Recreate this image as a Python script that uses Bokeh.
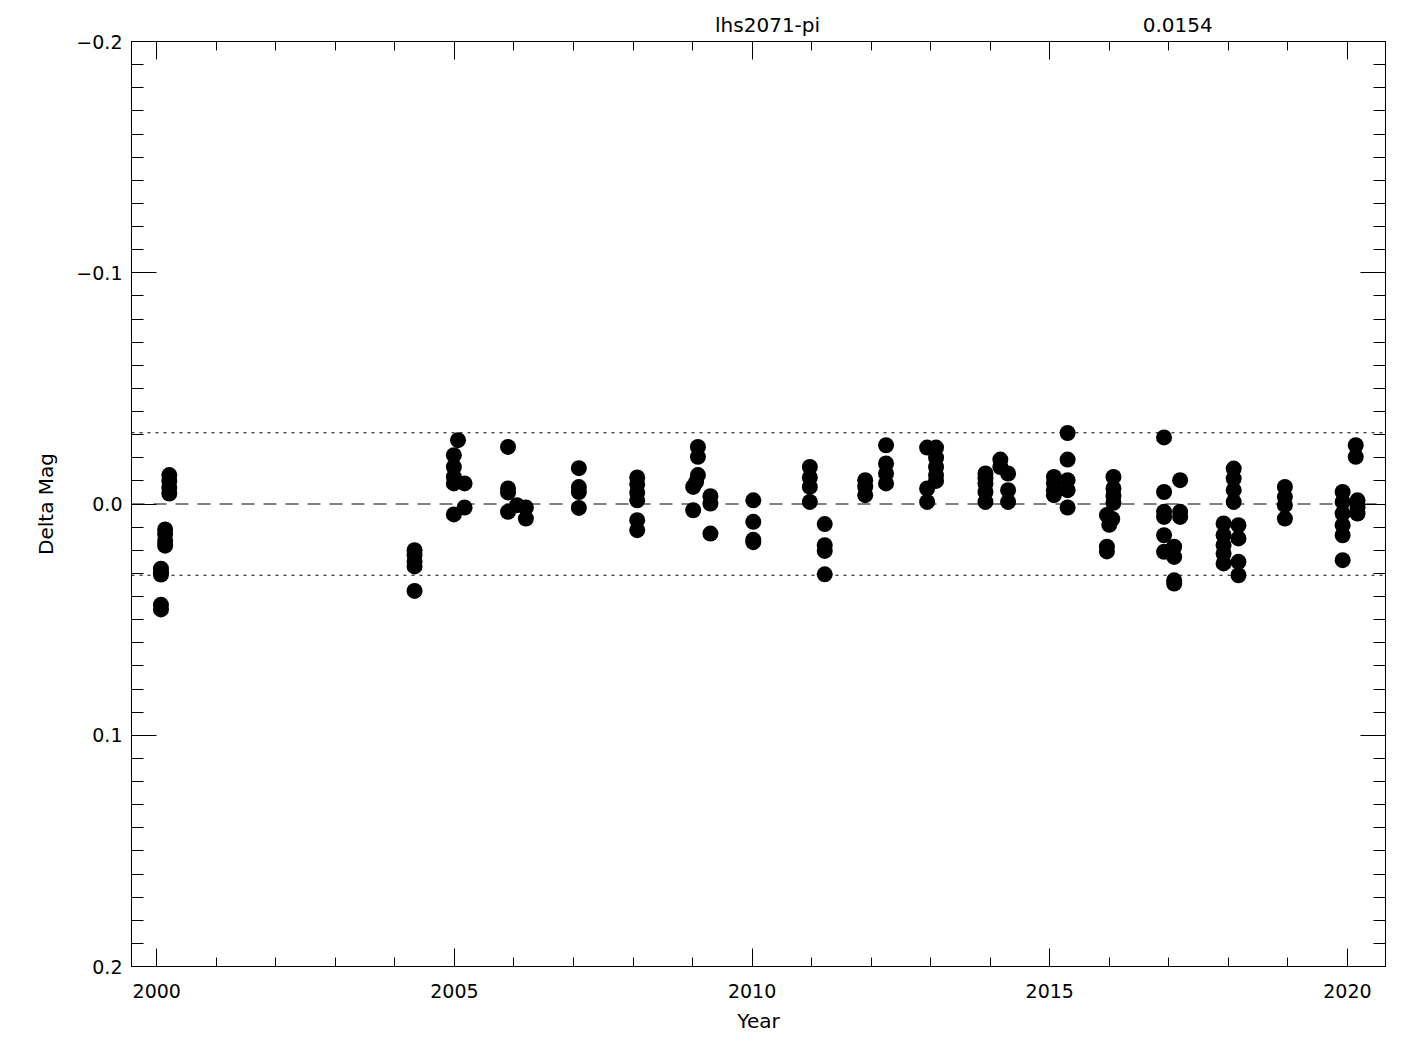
from bokeh.plotting import figure
from bokeh.models import (Range1d, LinearAxis, SingleIntervalTicker, FixedTicker,
                          CustomJSTickFormatter, Span, ColumnDataSource)
from bokeh.embed import file_html
from bokeh.resources import INLINE

# ---- data ----
title_text = ["lhs2071-pi", "0.0154"]
sigma = 0.0154

year = [
    2000.07, 2000.07, 2000.07, 2000.07, 2000.07,
    2000.14, 2000.14, 2000.14, 2000.14,
    2000.21, 2000.21, 2000.21, 2000.21,
    2004.33, 2004.33, 2004.33, 2004.33, 2004.33,
    2005.06, 2004.99, 2004.99, 2004.99, 2004.99, 2005.17, 2005.17, 2004.99,
    2005.90, 2005.90, 2005.90, 2005.90, 2006.05, 2006.20, 2006.20,
    2007.09, 2007.09, 2007.09, 2007.09,
    2008.07, 2008.07, 2008.07, 2008.07, 2008.07, 2008.07,
    2009.09, 2009.09, 2009.09, 2009.06, 2009.01, 2009.01, 2009.30, 2009.30, 2009.30,
    2010.02, 2010.02, 2010.02, 2010.02,
    2010.97, 2010.97, 2010.97, 2010.97, 2011.22, 2011.22, 2011.22, 2011.22,
    2011.90, 2011.90, 2011.90, 2012.25, 2012.25, 2012.25, 2012.25,
    2012.94, 2013.09, 2013.09, 2013.09, 2013.09, 2013.09, 2012.94, 2012.94,
    2013.92, 2013.92, 2013.92, 2013.92, 2013.92, 2014.17, 2014.17, 2014.30, 2014.30, 2014.30,
    2015.07, 2015.07, 2015.07, 2015.07, 2015.30, 2015.30, 2015.30, 2015.30, 2015.30,
    2016.07, 2016.07, 2016.07, 2016.07, 2015.96, 2016.05, 2016.00, 2015.96, 2015.96,
    2016.92, 2016.92, 2016.92, 2016.92, 2016.92, 2016.92, 2017.09, 2017.09, 2017.09, 2017.09,
    2017.19, 2017.19, 2017.19,
    2018.09, 2018.09, 2018.09, 2018.09, 2017.92, 2017.92, 2017.92, 2017.92, 2017.92,
    2018.17, 2018.17, 2018.17, 2018.17,
    2018.95, 2018.95, 2018.95, 2018.95,
    2019.92, 2019.92, 2019.92, 2019.92, 2019.92, 2019.92, 2020.14, 2020.14, 2020.17, 2020.17, 2020.17,
]
delta_mag = [
    0.0436, 0.0456, 0.0280, 0.0295, 0.0305,
    0.0110, 0.0130, 0.0160, 0.0180,
    -0.0125, -0.0100, -0.0070, -0.0045,
    0.0200, 0.0220, 0.0250, 0.0270, 0.0376,
    -0.0276, -0.0211, -0.0160, -0.0117, -0.0089, -0.0089, 0.0015, 0.0045,
    -0.0247, -0.0067, -0.0050, 0.0034, 0.0005, 0.0015, 0.0063,
    -0.0155, -0.0073, -0.0052, 0.0017,
    -0.0115, -0.0085, -0.0050, -0.0016, 0.0070, 0.0113,
    -0.0247, -0.0204, -0.0125, -0.0096, -0.0074, 0.0027, -0.0034, -0.0002, 0.0128,
    -0.0016, 0.0077, 0.0155, 0.0165,
    -0.0160, -0.0115, -0.0074, -0.0009, 0.0087, 0.0178, 0.0203, 0.0304,
    -0.0103, -0.0075, -0.0038, -0.0254, -0.0175, -0.0132, -0.0089,
    -0.0244, -0.0244, -0.0200, -0.0160, -0.0125, -0.0100, -0.0067, -0.0009,
    -0.0132, -0.0110, -0.0089, -0.0052, -0.0009, -0.0192, -0.0160, -0.0132, -0.0060, -0.0009,
    -0.0117, -0.0090, -0.0060, -0.0038, -0.0307, -0.0192, -0.0103, -0.0060, 0.0015,
    -0.0117, -0.0067, -0.0035, -0.0005, 0.0048, 0.0065, 0.0090, 0.0185, 0.0205,
    -0.0288, -0.0052, 0.0034, 0.0056, 0.0135, 0.0207, 0.0185, 0.0229, 0.0330, 0.0344,
    -0.0103, 0.0034, 0.0056,
    -0.0153, -0.0110, -0.0060, -0.0009, 0.0084, 0.0135, 0.0178, 0.0214, 0.0257,
    0.0092, 0.0149, 0.0250, 0.0308,
    -0.0074, -0.0031, 0.0005, 0.0063,
    -0.0052, -0.0009, 0.0041, 0.0092, 0.0135, 0.0243, -0.0254, -0.0204, -0.0016, 0.0013, 0.0041,
]

# layout constants (where the two header texts sit, in years)
TITLE_POS = [2010.26, 2017.15]
FONT = "DejaVu Sans"

p = figure(frame_width=1254, frame_height=925,
           min_border_left=131, min_border_right=30, min_border_top=41, min_border_bottom=70,
           x_range=Range1d(1999.575, 2020.64), y_range=Range1d(0.2, -0.2),
           x_axis_location=None, y_axis_location=None,
           output_backend="svg", toolbar_location=None,
           background_fill_color="white", border_fill_color="white")
p.grid.visible = False
p.outline_line_color = "black"
p.outline_line_width = 1


def style_ticks(ax, major, minor):
    ax.major_tick_in = major
    ax.major_tick_out = 0
    ax.minor_tick_in = minor
    ax.minor_tick_out = 0
    ax.axis_line_color = "black"
    ax.major_tick_line_color = "black"
    ax.minor_tick_line_color = "black"


def hide_labels(ax):
    ax.major_label_text_color = None
    ax.major_label_text_font_size = "1px"
    ax.major_label_standoff = 0


# bottom axis
xb = LinearAxis(ticker=SingleIntervalTicker(interval=5, num_minor_ticks=5))
style_ticks(xb, 18, 9)
xb.major_label_text_font = FONT
xb.major_label_text_font_size = "19px"
xb.major_label_text_color = "black"
xb.major_label_standoff = 17
xb.axis_label = "Year"
xb.axis_label_text_font = FONT
xb.axis_label_text_font_size = "20px"
xb.axis_label_text_font_style = "normal"
xb.axis_label_text_color = "black"
xb.axis_label_standoff = 8
p.add_layout(xb, "below")

# top mirror axis (ticks only)
xt = LinearAxis(ticker=SingleIntervalTicker(interval=5, num_minor_ticks=5))
style_ticks(xt, 18, 9)
hide_labels(xt)
p.add_layout(xt, "above")

# header texts, carried by a tick-less axis above the mirror axis
xh = LinearAxis(ticker=FixedTicker(ticks=TITLE_POS, minor_ticks=[]))
xh.major_tick_in = 0
xh.major_tick_out = 0
xh.minor_tick_in = 0
xh.minor_tick_out = 0
xh.axis_line_color = None
xh.major_tick_line_color = None
xh.minor_tick_line_color = None
xh.formatter = CustomJSTickFormatter(args=dict(pos=TITLE_POS, txt=title_text), code="""
let k = 0;
for (let i = 0; i < pos.length; i++) {
  if (Math.abs(pos[i] - tick) < Math.abs(pos[k] - tick)) k = i;
}
return txt[k];
""")
xh.major_label_text_font = FONT
xh.major_label_text_font_size = "20px"
xh.major_label_text_color = "black"
xh.major_label_standoff = 5
p.add_layout(xh, "above")

# left axis
yl = LinearAxis(ticker=SingleIntervalTicker(interval=0.1, num_minor_ticks=10))
style_ticks(yl, 25, 12)
yl.formatter = CustomJSTickFormatter(
    code="return (tick < -1e-9 ? '\\u2212' : '') + Math.abs(tick).toFixed(1);")
yl.major_label_text_font = FONT
yl.major_label_text_font_size = "19px"
yl.major_label_text_color = "black"
yl.major_label_standoff = 9
yl.axis_label = "Delta Mag"
yl.axis_label_text_font = FONT
yl.axis_label_text_font_size = "20px"
yl.axis_label_text_font_style = "normal"
yl.axis_label_text_color = "black"
yl.axis_label_standoff = 15
p.add_layout(yl, "left")

# right mirror axis
yr = LinearAxis(ticker=SingleIntervalTicker(interval=0.1, num_minor_ticks=10))
style_ticks(yr, 25, 12)
hide_labels(yr)
p.add_layout(yr, "right")

p.add_layout(Span(location=0.0, dimension="width", line_color="black",
                  line_width=1, line_dash="13 9"))
p.add_layout(Span(location=2 * sigma, dimension="width", line_color="black",
                  line_width=1, line_dash="3 5"))
p.add_layout(Span(location=-2 * sigma, dimension="width", line_color="black",
                  line_width=1, line_dash="3 5"))

src = ColumnDataSource(dict(year=year, dmag=delta_mag))
p.scatter("year", "dmag", source=src, marker="circle", size=16,
          fill_color="black", line_color=None)

open("out.html", "w").write(file_html(p, INLINE))
